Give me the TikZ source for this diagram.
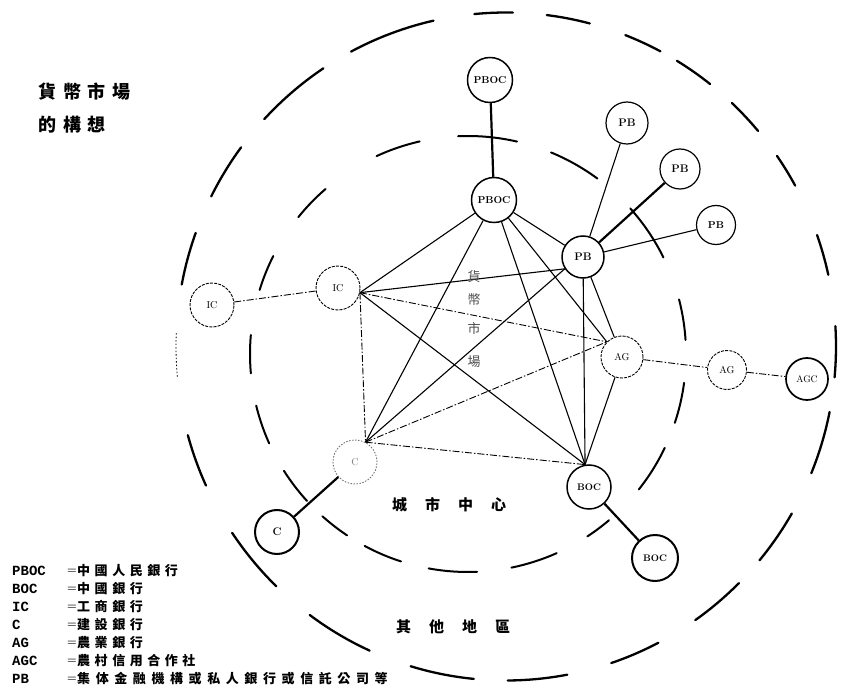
\documentclass[tikz,border=0pt]{standalone}
\usepackage{fontspec}
\newfontfamily\cjk{Noto Sans CJK TC}
\newfontfamily\monof{Liberation Mono}
\begin{document}
\begin{tikzpicture}[x=1pt,y=1pt,
  bank/.style={circle, draw, inner sep=0pt, line width=1.5pt, minimum size=44pt,
    font=\fontsize{10}{10}\selectfont\bfseries},
  bigbank/.style={bank, line width=2pt},
  paleb/.style={circle, draw, inner sep=0pt, line width=0.9pt, minimum size=42pt,
    dash pattern=on 3pt off 1.2pt, font=\fontsize{10}{10}\selectfont},
  faintb/.style={paleb, draw=black!55, dash pattern=on 1.5pt off 1.5pt, text=black!50},
  link/.style={line width=1.1pt},
  dlink/.style={line width=0.9pt, dash pattern=on 7pt off 2pt on 1.5pt off 2pt},
  heavy/.style={line width=2.2pt},
  ringdash/.style={line width=2.3pt, line cap=round},
  innerdash/.style={line width=2pt, line cap=round},
  zonetext/.style={anchor=west, inner sep=0pt, font=\cjk\bfseries\fontsize{15}{15}\selectfont\addfontfeature{LetterSpace=120}},
  abbr/.style={anchor=west, inner sep=0pt, font=\monof\bfseries\fontsize{14}{14}\selectfont},
  eqsign/.style={anchor=west, inner sep=0pt, font=\bfseries\fontsize{11}{11}\selectfont},
  legtext/.style={anchor=west, inner sep=0pt, font=\cjk\bfseries\fontsize{13}{13}\selectfont\addfontfeature{LetterSpace=35}},
  midchar/.style={inner sep=0pt, text=black!70, font=\cjk\fontsize{13}{13}\selectfont}
]
\useasboundingbox (0,0) rectangle (859,689);

% ---- dashed rings ----
\foreach \a/\b in {77/92.6, 53.6/67.6, 26.3/41.9, 3.7/14.5, -18.4/-7.6, -38.4/-25.5,
  -56.8/-49.7, -78.5/-66, -100.4/-87.6, -118.3/-107.9, -131.9/-123.7, -147.6/-137.6,
  -166.3/-155.8, 175/185.1, 153.3/162.9, 130.8/141.1, 102.8/114.8}
  \draw[innerdash] (468,335) ++(\a:218) arc[start angle=\a, end angle=\b, radius=218];
\foreach \a/\b in {123.6/137.1, 102.7/118, 88.8/95.5, 75.3/82.9, 62.1/68.8, 51.8/58.8,
  40.2/46.8, 28.8/34.8, 12.4/19.5, -5.3/3.5, -22.3/-11.3, -39.8/-30, -55/-45.1,
  -71.4/-62.5, -89.7/-79.3, -106.8/-95.6, -126.5/-114.4, -146.1/-134.1,
  -164.6/-155.4, 160.1/169.3, 143.4/153.3}
  \draw[ringdash] (506,342.5) ++(\a:330 and 334) arc[start angle=\a, end angle=\b, x radius=330, y radius=334];
\draw[line width=0.8pt, dash pattern=on 1.5pt off 2pt] (506,342.5) ++(177.7:330 and 334)
  arc[start angle=177.7, end angle=185.3, x radius=330, y radius=334];

% ---- nodes ----
\node[bank, minimum size=45pt] (pboc0) at (490,609) {PBOC};
\node[bank, minimum size=45pt] (pboc) at (494,489) {PBOC};
\node[bank, minimum size=42pt, font=\fontsize{11}{11}\selectfont\bfseries] (pb) at (583,432) {PB};
\node[bank, line width=1.2pt, minimum size=42pt, font=\fontsize{11}{11}\selectfont\bfseries] (pb1) at (627,566) {PB};
\node[bank, line width=1.2pt, minimum size=40pt, font=\fontsize{11}{11}\selectfont\bfseries] (pb2) at (680,520) {PB};
\node[bank, line width=1.2pt, minimum size=39pt, font=\fontsize{10}{10}\selectfont\bfseries] (pb3) at (716,464) {PB};
\node[paleb, minimum size=44pt] (ic) at (338,401) {IC};
\node[paleb, minimum size=44pt] (ic0) at (212,384) {IC};
\node[faintb, minimum size=44pt] (c) at (355,227) {C};
\node[bigbank, minimum size=44pt, font=\fontsize{11}{11}\selectfont\bfseries] (c0) at (277,157) {C};
\node[bank, minimum size=44pt, font=\fontsize{9.5}{9.5}\selectfont\bfseries] (boc) at (589,202) {BOC};
\node[bigbank, minimum size=46pt, font=\fontsize{9.5}{9.5}\selectfont\bfseries] (boc0) at (655,131) {BOC};
\node[paleb, minimum size=42pt] (ag) at (622,332) {AG};
\node[paleb, minimum size=39pt] (ag0) at (727,319) {AG};
\node[bank, line width=1.7pt, minimum size=42pt, font=\fontsize{9.5}{9.5}\selectfont] (agc) at (807,310) {AGC};

% ---- outward connectors ----
\draw[heavy] (pboc0) -- (pboc);
\draw[link] (pb) -- (pb1);
\draw[heavy] (pb) -- (pb2);
\draw[link] (pb) -- (pb3);
\draw[dlink] (ic0) -- (ic);
\draw[dlink] (ag) -- (ag0);
\draw[dlink] (ag0) -- (agc);
\draw[heavy] (c) -- (c0);
\draw[heavy] (boc) -- (boc0);

% ---- inner market network ----
\draw[link] (pboc) -- (pb);
\draw[link] (pboc) -- (ic.-12);
\draw[link] (pboc) -- (c.62);
\draw[link] (pboc) -- (boc.100);
\draw[link] (pboc) -- (ag.135);
\draw[link] (ic.-12) -- (pb.213);
\draw[dlink] (ic.-12) -- (ag.135);
\draw[link] (ic.-12) -- (boc.100);
\draw[dlink] (ic.-12) -- (c.62);
\draw[link] (c.62) -- (pb.213);
\draw[dlink] (c.62) -- (ag.135);
\draw[dlink] (c.62) -- (boc.100);
\draw[link] (pb) -- (ag);
\draw[link] (pb) -- (boc.100);
\draw[link] (ag) -- (boc.100);

% ---- texts ----
\node[midchar] (m1) at (474,412) {貨};
\node[midchar] (m2) at (474,389) {幣};
\node[midchar] (m3) at (474,361) {市};
\node[midchar] (m4) at (474,327) {場};

\node[zonetext] (city) at (392,184) {城市中心};
\node[zonetext] (other) at (396,62) {其他地區};

\node[anchor=west, inner sep=0pt, font=\cjk\bfseries\fontsize{18}{18}\selectfont\addfontfeature{LetterSpace=38}] (t1) at (38,597) {貨幣市場};
\node[anchor=west, inner sep=0pt, font=\cjk\bfseries\fontsize{18}{18}\selectfont\addfontfeature{LetterSpace=38}] (t2) at (38,564) {的構想};

% ---- legend ----
\node[abbr] (l1a) at (12,118) {PBOC}; \node[eqsign] (l1e) at (67,118) {=}; \node[legtext] (l1t) at (77,118) {中國人民銀行};
\node[abbr] (l2a) at (12,100) {BOC};  \node[eqsign] (l2e) at (67,100) {=}; \node[legtext] (l2t) at (77,100) {中國銀行};
\node[abbr] (l3a) at (12,82)  {IC};   \node[eqsign] (l3e) at (67,82)  {=}; \node[legtext] (l3t) at (77,82)  {工商銀行};
\node[abbr] (l4a) at (12,64)  {C};    \node[eqsign] (l4e) at (67,64)  {=}; \node[legtext] (l4t) at (77,64)  {建設銀行};
\node[abbr] (l5a) at (12,46)  {AG};   \node[eqsign] (l5e) at (67,46)  {=}; \node[legtext] (l5t) at (77,46)  {農業銀行};
\node[abbr] (l6a) at (12,28)  {AGC};  \node[eqsign] (l6e) at (67,28)  {=}; \node[legtext] (l6t) at (77,28)  {農村信用合作社};
\node[abbr] (l7a) at (12,10)  {PB};   \node[eqsign] (l7e) at (67,10)  {=}; \node[legtext, font=\cjk\bfseries\fontsize{13}{13}\selectfont\addfontfeature{LetterSpace=43}] (l7t) at (77,10) {集体金融機構或私人銀行或信託公司等};
\end{tikzpicture}
\end{document}
